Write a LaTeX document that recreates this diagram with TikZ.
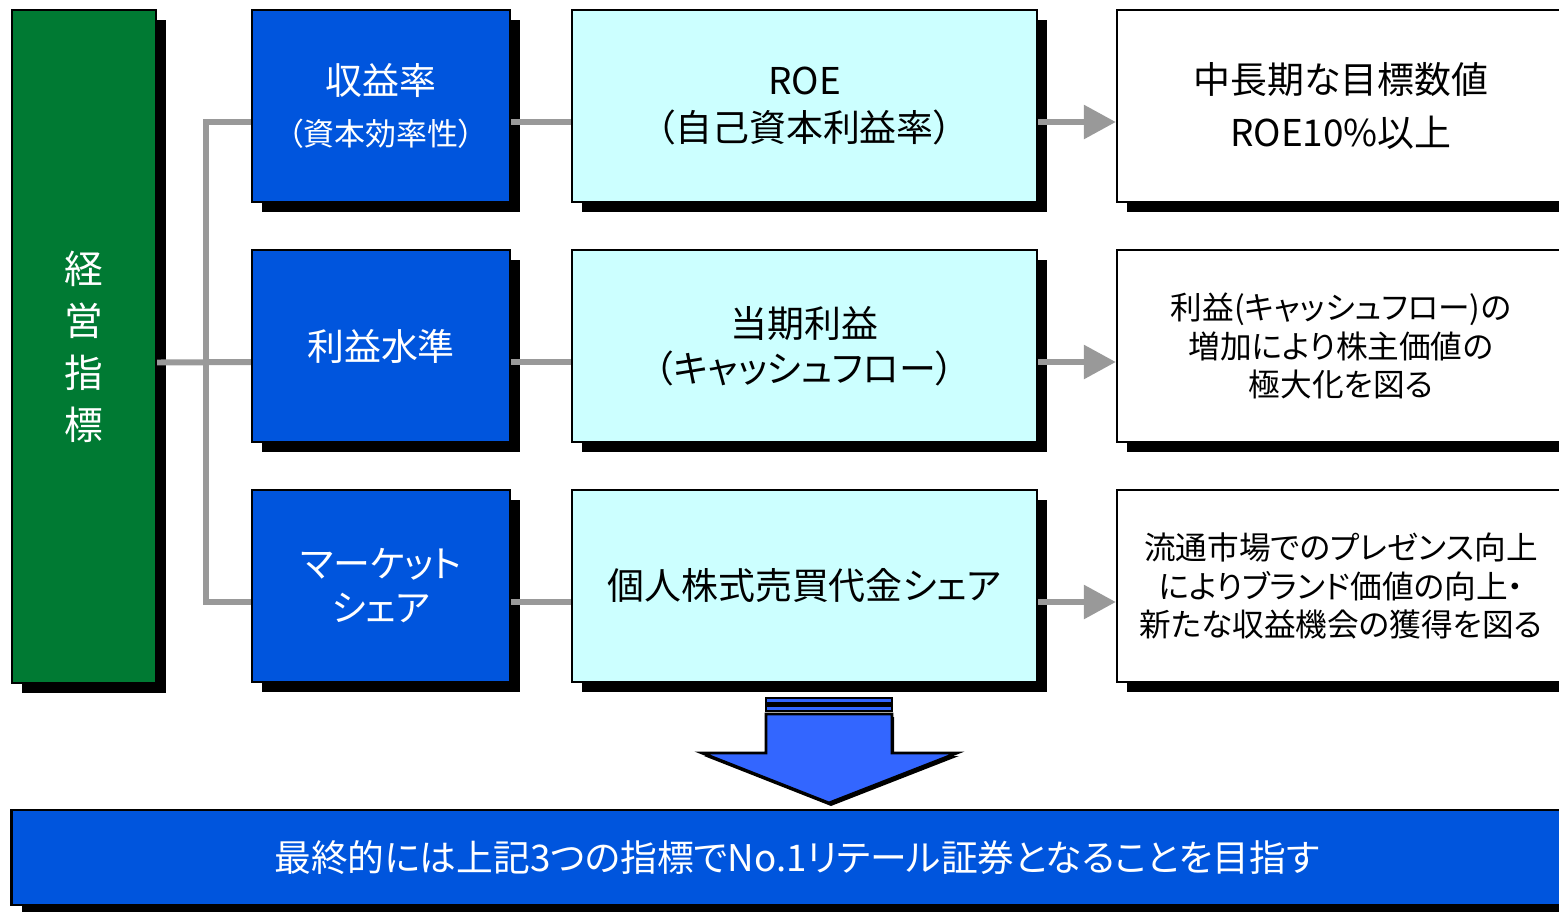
\documentclass[tikz,border=0pt]{standalone}
\usepackage{fontspec}
\setmainfont[RawFeature=+palt]{Noto Sans CJK JP}
\usepackage{tikz}
\usetikzlibrary{shadows,arrows.meta}
\definecolor{kpigreen}{RGB}{0,122,51}
\definecolor{kpiblue}{RGB}{0,85,221}
\definecolor{kpicyan}{RGB}{204,255,255}
\definecolor{arrowblue}{RGB}{51,102,255}
\definecolor{linkgray}{RGB}{153,153,153}

\begin{document}
\begin{tikzpicture}[x=0.01cm,y=-0.01cm]
            \tikzstyle{box}=[rectangle, draw=black, line width=0.6pt, inner sep=0pt, align=center,
              drop shadow={fill=black, opacity=1, shadow xshift=0.1cm, shadow yshift=-0.1cm}]
            \tikzstyle{kpibox}=[box, fill=kpiblue, text=white, minimum width=2.58cm, minimum height=1.92cm]
            \tikzstyle{valbox}=[box, fill=kpicyan, minimum width=4.65cm, minimum height=1.92cm]
            \tikzstyle{goalbox}=[box, fill=white, minimum width=4.48cm, minimum height=1.92cm]
            \tikzstyle{link}=[draw=linkgray, line width=1.7pt]

            \useasboundingbox (0,0) rectangle (1559,912);
            \fill[white] (0,0) rectangle (1559,912);

            \node[box, fill=kpigreen, text=white, minimum width=1.44cm, minimum height=6.73cm,
              font=\fontsize{11}{14.8}\selectfont] (kpi) at (84,346.5) {経\\営\\指\\標};

            \node[kpibox, font=\fontsize{10.5}{14.5}\selectfont] (b1) at (381,106)
              {収益率\\{\fontsize{8.8}{14.5}\selectfont （資本効率性）}};
            \node[kpibox, font=\fontsize{10.5}{13}\selectfont] (b2) at (381,346) {利益水準};
            \node[kpibox, font=\fontsize{10.5}{12.5}\selectfont] (b3) at (381,586) {マーケット\\シェア};

            \node[valbox, font=\fontsize{10.5}{13.4}\selectfont] (c1) at (804.5,106) {ROE\\（自己資本利益率）};
            \node[valbox, font=\fontsize{10.5}{12.8}\selectfont] (c2) at (804.5,346) {当期利益\\（キャッシュフロー）};
            \node[valbox, font=\fontsize{10.5}{13}\selectfont] (c3) at (804.5,586) {個人株式売買代金シェア};

            \node[goalbox, font=\fontsize{10.5}{15}\selectfont] (w1) at (1341,106) {中長期な目標数値\\ROE10\%以上};
            \node[goalbox, font=\fontsize{9}{11}\selectfont] (w2) at (1341,346)
              {利益(キャッシュフロー)の\\増加により株主価値の\\極大化を図る};
            \node[goalbox, font=\fontsize{9}{11}\selectfont] (w3) at (1341,586)
              {流通市場でのプレゼンス向上\\によりブランド価値の向上・\\新たな収益機会の獲得を図る};

            \node[box, fill=kpiblue, text=white, minimum width=15.7cm, minimum height=0.95cm,
              drop shadow={fill=black, opacity=1, shadow xshift=0.1cm, shadow yshift=-0.07cm},
              font=\fontsize{10.45}{12}\selectfont] (goal) at (797,857.5)
              {最終的には上記3つの指標でNo.1リテール証券となることを目指す};

            \draw[link] ([yshift=-0.16cm]kpi.east) -- ([yshift=-0.16cm]b2.west);
            \draw[link] ([yshift=-0.16cm]b1.west) -- ++(-0.45cm,0) |- ([yshift=-0.16cm]b3.west);
            \draw[link] ([yshift=-0.16cm]b1.east) -- ([yshift=-0.16cm]c1.west);
            \draw[link] ([yshift=-0.16cm]b2.east) -- ([yshift=-0.16cm]c2.west);
            \draw[link] ([yshift=-0.16cm]b3.east) -- ([yshift=-0.16cm]c3.west);
            \draw[link, -{Triangle[length=0.32cm, width=0.33cm]}] ([yshift=-0.16cm]c1.east) -- ([yshift=-0.16cm]w1.west);
            \draw[link, -{Triangle[length=0.32cm, width=0.33cm]}] ([yshift=-0.16cm]c2.east) -- ([yshift=-0.16cm]w2.west);
            \draw[link, -{Triangle[length=0.32cm, width=0.33cm]}] ([yshift=-0.16cm]c3.east) -- ([yshift=-0.16cm]w3.west);

            \draw[fill=arrowblue, line width=0.5pt] (766,698) rectangle (892,703);
            \draw[fill=arrowblue, line width=0.8pt] (766,705.5) rectangle (892,711);
            \draw[fill=arrowblue, line width=0.8pt,
              drop shadow={fill=black, opacity=1, shadow xshift=0.02cm, shadow yshift=-0.03cm}]
              (766,714) -- (892,714) -- (892,753) -- (957,753) -- (829,803) -- (702,753) -- (766,753) -- cycle;
        \end{tikzpicture}
\end{document}
